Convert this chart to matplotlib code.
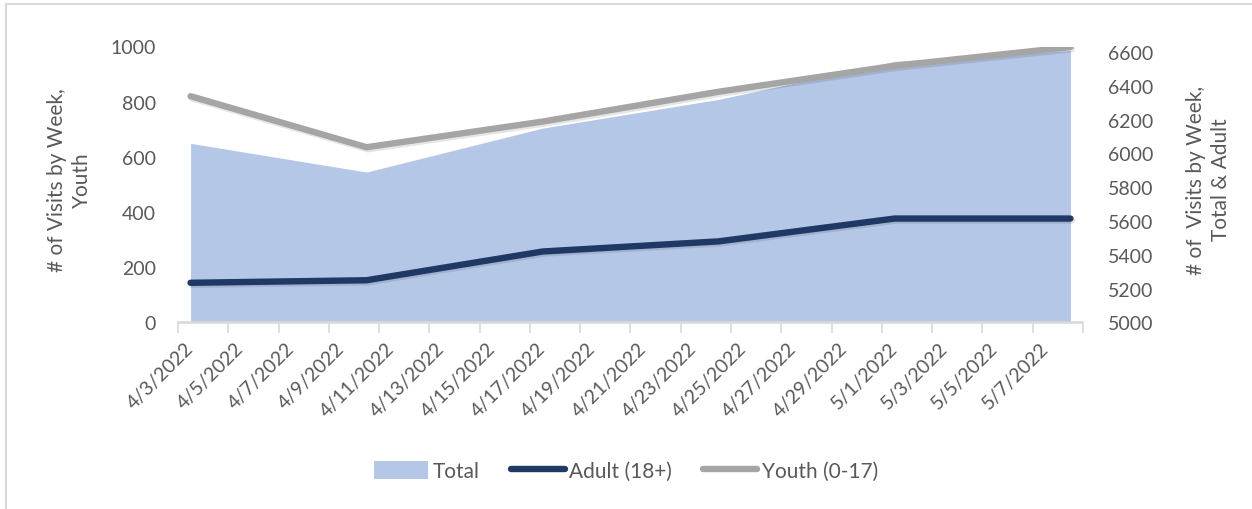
import matplotlib
matplotlib.use("Agg")
import matplotlib.pyplot as plt
import matplotlib.dates as mdates
import matplotlib.patheffects as pe
import matplotlib.transforms as mtransforms
from matplotlib.patches import Patch
from matplotlib.lines import Line2D
import pandas as pd

# ---- data ----
week_dates = ["2022-04-03", "2022-04-10", "2022-04-17", "2022-04-24", "2022-05-01", "2022-05-08"]
total = [6060, 5890, 6150, 6320, 6545, 6610]
adult = [5235, 5250, 5420, 5480, 5615, 5615]
youth = [820, 635, 728, 836, 930, 998]
left_ticks = [0, 200, 400, 600, 800, 1000]
right_ticks = [5000, 5200, 5400, 5600, 5800, 6000, 6200, 6400, 6600]
label_start, label_end = "2022-04-03", "2022-05-07"

plt.rcParams['font.family'] = ['Lato', 'DejaVu Sans']
TXT = '#595959'
FS = 14
FS2 = 15

x = mdates.date2num(pd.to_datetime(week_dates))
fig = plt.figure(figsize=(12.52, 5.10), dpi=100)
L, R, T, B = 178, 1083, 47.5, 323.5
ax = fig.add_axes([L/1252, 1-B/510, (R-L)/1252, (B-T)/510])
ax2 = ax.twinx()

shadow = [pe.SimpleLineShadow(offset=(1, -1.5), alpha=0.10), pe.Normal()]
# right axis: Total (area) and Adult
ax2.fill_between(x, right_ticks[0], total, color='#B4C7E7', linewidth=0, zorder=1)
ax2.plot(x, adult, color='#203864', lw=4.6, solid_capstyle='round', zorder=3, path_effects=shadow)
# left axis: Youth
ax.plot(x, youth, color='#A5A5A5', lw=4.6, solid_capstyle='round', zorder=3, path_effects=shadow)
ax.set_zorder(ax2.get_zorder() + 1)
ax.patch.set_visible(False)

ax.set_ylim(0, 1000)
ax2.set_ylim(5000, 6633)
ax.set_yticks(left_ticks)
ax2.set_yticks(right_ticks)

x0 = x[0] - 0.5
x1 = x[-1] + 0.5
ax.set_xlim(x0, x1)
tick_marks = [x0 + 2*k for k in range(int((x1 - x0) / 2) + 1)]
ax.set_xticks(tick_marks)
ax.set_xticklabels([])
lab_dates = pd.date_range(label_start, label_end, freq="2D")
ax.set_xticks(mdates.date2num(lab_dates), minor=True)
labs = ax.set_xticklabels([f"{d.month}/{d.day}/{d.year}" for d in lab_dates], minor=True,
                          rotation=45, ha='right', va='center', rotation_mode='anchor')
shift = mtransforms.ScaledTranslation(4/100, 0, fig.dpi_scale_trans)
for t in ax.xaxis.get_minorticklabels():
    t.set_transform(t.get_transform() + shift)
ax.tick_params(axis='x', which='major', length=7, color='#D9D9D9', width=1.2)
ax.tick_params(axis='x', which='minor', length=0, pad=16, labelsize=FS, labelcolor=TXT)
ax.tick_params(axis='y', length=0, pad=16, labelsize=FS, labelcolor=TXT)
ax2.tick_params(axis='y', length=0, pad=18, labelsize=FS, labelcolor=TXT)

for a in (ax, ax2):
    for s in ('top', 'left', 'right'):
        a.spines[s].set_visible(False)
    a.spines['bottom'].set_color('#D9D9D9')
    a.spines['bottom'].set_linewidth(1.2)

ax.set_ylabel("# of Visits by Week,\nYouth", fontsize=FS2, color=TXT, linespacing=1.3)
ax2.set_ylabel("# of  Visits by Week,\nTotal & Adult", fontsize=FS2, color=TXT,
               rotation=90, linespacing=1.3)
ax.yaxis.set_label_coords((92 - L) / (R - L), 0.52)
ax2.yaxis.set_label_coords((1186 - L) / (R - L), 0.52)

handles = [Patch(facecolor='#B4C7E7', edgecolor='none'),
           Line2D([], [], color='#203864', lw=4.6, solid_capstyle='round'),
           Line2D([], [], color='#A5A5A5', lw=4.6, solid_capstyle='round')]
leg = fig.legend(handles, ["Total", "Adult (18+)", "Youth (0-17)"], loc='center',
                 bbox_to_anchor=(0.5, 1 - 472/510), ncol=3, frameon=False, fontsize=FS2,
                 handlelength=2.6, handletextpad=0.2, columnspacing=1.5, handleheight=1.0)
for t in leg.get_texts():
    t.set_color(TXT)

# chart frame (top and left edges visible)
fig.add_artist(Line2D([6/1252, 6/1252], [0, 1 - 5/510], color='#D9D9D9', lw=1.5,
                      transform=fig.transFigure))
fig.add_artist(Line2D([6/1252, 1], [1 - 5/510, 1 - 5/510], color='#D9D9D9', lw=1.5,
                      transform=fig.transFigure))

fig.savefig("out.png", dpi=100)
